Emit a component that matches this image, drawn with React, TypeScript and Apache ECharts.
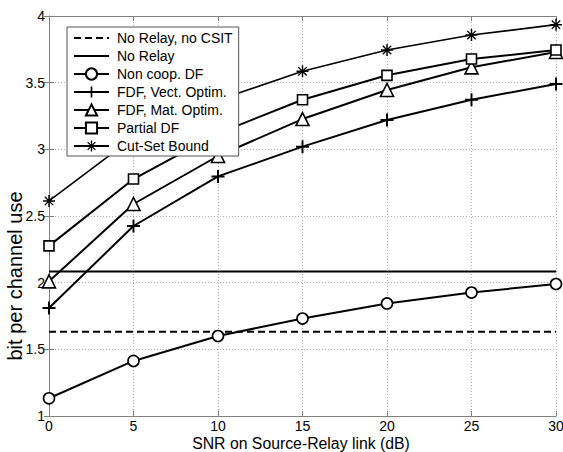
import React, { useEffect, useRef } from "react";
import * as echarts from "echarts";

const snr = [0, 5, 10, 15, 20, 25, 30];
const noRelayNoCsitX = [0, 30];
const noRelayNoCsit = [1.632, 1.632];
const noRelayX = [0, 30];
const noRelay = [2.083, 2.083];
const nonCoopDF = [1.133, 1.413, 1.6, 1.731, 1.844, 1.926, 1.99];
const fdfVect = [1.81, 2.425, 2.797, 3.02, 3.22, 3.372, 3.49];
const fdfMat = [2.01, 2.59, 2.95, 3.227, 3.445, 3.615, 3.73];
const partialDF = [2.276, 2.777, 3.12, 3.372, 3.555, 3.677, 3.745];
const cutSet = [2.613, 3.09, 3.37, 3.585, 3.745, 3.857, 3.935];

const legendNames = [
  "No Relay, no CSIT",
  "No Relay",
  "Non coop. DF",
  "FDF, Vect. Optim.",
  "FDF, Mat. Optim.",
  "Partial DF",
  "Cut-Set Bound",
];
const xTitle = "SNR on Source-Relay link (dB)";
const yTitle = "bit per channel use";

const PLUS =
  "path://M8.5,0 L11.5,0 L11.5,8.5 L20,8.5 L20,11.5 L11.5,11.5 L11.5,20 L8.5,20 L8.5,11.5 L0,11.5 L0,8.5 L8.5,8.5 Z";
const STAR =
  "path://M0,8.8 L20,8.8 L20,11.2 L0,11.2 Z M8.8,0 L11.2,0 L11.2,20 L8.8,20 Z M2.2,3.8 L3.8,2.2 L17.8,16.2 L16.2,17.8 Z M16.2,2.2 L17.8,3.8 L3.8,17.8 L2.2,16.2 Z";

const FONT = "'Liberation Sans', Arial, Helvetica, sans-serif";

const pairs = (xs: number[], ys: number[]) => xs.map((x, i) => [x, ys[i]]);

export default function App() {
  const ref = useRef<HTMLDivElement>(null);
  useEffect(() => {
    if (!ref.current) return;
    const chart = echarts.init(ref.current, undefined, { renderer: "svg" });
    const hollow = { color: "#fff", borderColor: "#000", borderWidth: 1.6 };
    const solid = { color: "#000", borderColor: "#000", borderWidth: 0 };
    const line = (name: string, data: number[][], extra: any) => ({
      name,
      type: "line",
      data,
      lineStyle: { color: "#000", width: 2 },
      itemStyle: hollow,
      symbolSize: 11,
      showAllSymbol: true,
      z: 3,
      ...extra,
    });
    const frameAxis = {
      axisLine: { show: true, lineStyle: { color: "#808080", width: 1 } },
      axisTick: { show: true, inside: true, length: 5, lineStyle: { color: "#808080" } },
    };
    const grid = { show: true, lineStyle: { color: "#b0b0b0", type: [1, 2], width: 1 } };
    chart.setOption({
      animation: false,
      backgroundColor: "#fff",
      textStyle: { fontFamily: FONT },
      grid: {
        left: 49,
        right: 7,
        top: 16,
        bottom: 36,
        containLabel: false,
        outerBoundsMode: "none",
      },
      graphic: [
        {
          type: "text",
          x: 301,
          y: 443,
          style: {
            text: xTitle,
            fontFamily: FONT,
            fontSize: 15.8,
            fill: "#000",
            align: "center",
            verticalAlign: "middle",
          },
        },
        {
          type: "text",
          x: 15,
          y: 276,
          rotation: Math.PI / 2,
          style: {
            text: yTitle,
            fontFamily: FONT,
            fontSize: 20,
            fill: "#000",
            align: "center",
            verticalAlign: "middle",
          },
        },
      ],
      legend: {
        orient: "vertical",
        left: 67,
        top: 27,
        padding: [4, 6, 3, 6],
        itemWidth: 35,
        itemHeight: 14,
        itemGap: 4,
        backgroundColor: "#fff",
        borderColor: "#555",
        borderWidth: 1,
        textStyle: { fontFamily: FONT, fontSize: 14, color: "#000", padding: [0, 0, 0, 3] },
        data: legendNames.map((n, i) =>
          i < 2 ? { name: n, itemStyle: { opacity: 0 } } : { name: n }
        ),
      },
      xAxis: [
        {
          type: "value",
          min: 0,
          max: 30,
          interval: 5,
          ...frameAxis,
          axisLabel: { fontFamily: FONT, fontSize: 14, color: "#000", margin: 3 },
          splitLine: grid,
        },
        {
          type: "value",
          position: "top",
          min: 0,
          max: 30,
          interval: 5,
          ...frameAxis,
          axisLabel: { show: false },
          splitLine: { show: false },
        },
      ],
      yAxis: [
        {
          type: "value",
          min: 1,
          max: 4,
          interval: 0.5,
          ...frameAxis,
          axisLabel: { fontFamily: FONT, fontSize: 14, color: "#000", margin: 4 },
          splitLine: grid,
        },
        {
          type: "value",
          position: "right",
          min: 1,
          max: 4,
          interval: 0.5,
          ...frameAxis,
          axisLabel: { show: false },
          splitLine: { show: false },
        },
      ],
      series: [
        line(legendNames[0], pairs(noRelayNoCsitX, noRelayNoCsit), {
          symbol: "circle",
          showSymbol: false,
          lineStyle: { color: "#000", width: 2, type: [7, 4] },
          itemStyle: { color: "#000" },
        }),
        line(legendNames[1], pairs(noRelayX, noRelay), {
          symbol: "circle",
          showSymbol: false,
          itemStyle: { color: "#000" },
        }),
        line(legendNames[2], pairs(snr, nonCoopDF), { symbol: "circle", symbolSize: 11 }),
        line(legendNames[3], pairs(snr, fdfVect), {
          symbol: PLUS,
          symbolSize: 13,
          itemStyle: solid,
        }),
        line(legendNames[4], pairs(snr, fdfMat), { symbol: "triangle", symbolSize: 13 }),
        line(legendNames[5], pairs(snr, partialDF), { symbol: "rect", symbolSize: 10 }),
        line(legendNames[6], pairs(snr, cutSet), {
          symbol: STAR,
          symbolSize: 12,
          itemStyle: solid,
          lineStyle: { color: "#000", width: 1.6 },
        }),
      ],
    });
    return () => chart.dispose();
  }, []);
  return (
    <div
      ref={ref}
      style={{ position: "absolute", left: 0, top: 0, width: 563, height: 452 }}
    />
  );
}
